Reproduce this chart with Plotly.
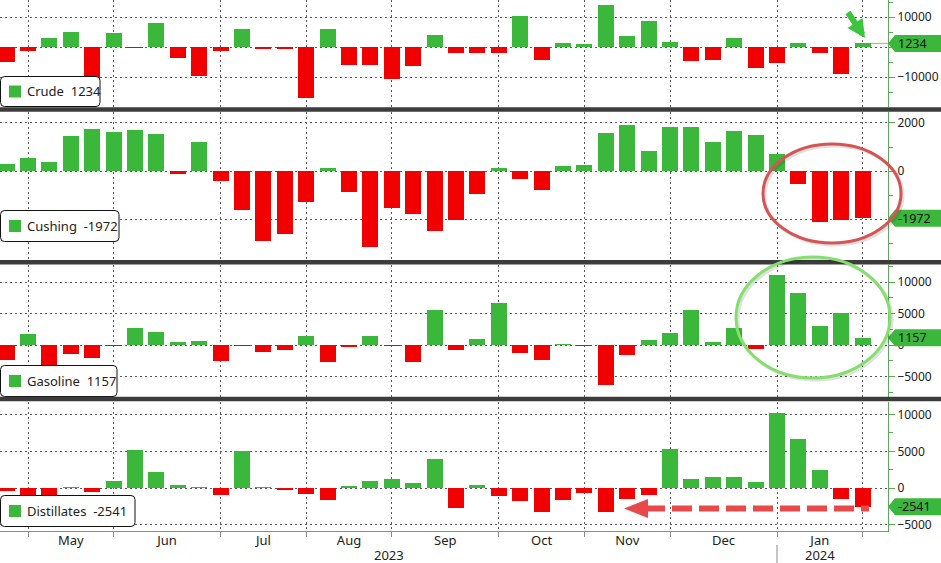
import plotly.graph_objects as go
import pandas as pd

# ---------------- data (weekly changes, thousand barrels) ----------------
dates = [
    "2023-04-21", "2023-04-28", "2023-05-05", "2023-05-12", "2023-05-19", "2023-05-26",
    "2023-06-02", "2023-06-09", "2023-06-16", "2023-06-23", "2023-06-30",
    "2023-07-07", "2023-07-14", "2023-07-21", "2023-07-28",
    "2023-08-04", "2023-08-11", "2023-08-18", "2023-08-25",
    "2023-09-01", "2023-09-08", "2023-09-15", "2023-09-22", "2023-09-29",
    "2023-10-06", "2023-10-13", "2023-10-20", "2023-10-27",
    "2023-11-03", "2023-11-10", "2023-11-17", "2023-11-24",
    "2023-12-01", "2023-12-08", "2023-12-15", "2023-12-22", "2023-12-29",
    "2024-01-05", "2024-01-12", "2024-01-19", "2024-01-26",
]
crude = [-4900, -1300, 3000, 5000, -12500, 4700, -200, 8000, -3600, -9700, -1300,
         6000, -700, -600, -17000, 6000, -5900, -6100, -10600, -6300, 4000, -2000,
         -1800, -1800, 10400, -4200, 1300, 1000, 13900, 3800, 8700, 1600, -4600,
         -4200, 3000, -6900, -5200, 1300, -2100, -8900, 1234]
cushing = [290, 540, 375, 1460, 1750, 1625, 1710, 1540, -110, 1210, -400,
           -1610, -2900, -2610, -1280, 125, -860, -3150, -1530, -1780, -2490, -2050,
           -940, 125, -320, -780, 220, 265, 1600, 1930, 830, 1850, 1850,
           1210, 1670, 1510, 720, -530, -2110, -2030, -1972]
gasoline = [-2340, 1750, -3190, -1380, -2020, -100, 2710, 2070, 480, 640, -2500,
            -80, -1060, -750, 1440, -2660, -270, 1440, -100, -2660, 5590, -750,
            970, 6610, -1240, -2370, 100, -50, -6400, -1560, 810, 1830, 5540,
            480, 2740, -590, 11130, 8230, 3070, 5110, 1157]
distillates = [-450, -910, -910, 100, -500, 1000, 5230, 2230, 450, 120, -1000,
               5000, 50, -180, -770, -1680, 320, 1000, 1270, 730, 4000, -2770,
               410, -1140, -1820, -3230, -1680, -730, -3230, -1450, -1000, 5360, 1270,
               1550, 1550, 860, 10270, 6730, 2500, -1450, -2541]
series_names = ["Crude", "Cushing", "Gasoline", "Distillates"]
month_labels = ["May", "Jun", "Jul", "Aug", "Sep", "Oct", "Nov", "Dec", "Jan"]
year_labels = ["2023", "2024"]

# ---------------- styling ----------------
W, H = 941, 563
PLOT_RIGHT = 888
GREEN = "#3bb83b"
RED = "#f00000"
AXIS_GREEN = "#5da85d"
GRID = "#5a5a5a"
TEXT = "#222222"
FONT = "Noto Sans"
SEP = "#3c3c3c"


def fx(p):
    return p / W


def fy(p):
    return 1 - p / H


dt = pd.to_datetime(dates)
day_px = 21.4 / 7.0
first_px = 6.6
x_start = dt[0] - pd.Timedelta(days=first_px / day_px)
x_end = dt[0] + pd.Timedelta(days=(PLOT_RIGHT - first_px) / day_px)
bar_width_ms = 16 / day_px * 86400000

s = pd.Series(dt)
month_ends = s.groupby(s.dt.to_period("M")).max().tolist()
mids = [month_ends[i] + (month_ends[i + 1] - month_ends[i]) / 2 for i in range(len(month_ends) - 1)]

values = [crude, cushing, gasoline, distillates]
# (top px, bottom px, y range, dtick, minor dtick, legend width, legend bottom offset, legend height)
panels = [
    (0, 107, [-19900, 15667], 10000, 5000, 100, 0.5, 30),
    (112, 260, [-3708, 2458], 2000, 1000, 119, 18.5, 31),
    (265, 397, [-8254, 12698], 5000, 2500, 117, 0.5, 31),
    (402, 531, [-5858, 11717], 5000, 2500, 135, 4.5, 31),
]

fig = go.Figure()
shapes = []
annotations = []
layout = dict(
    width=W, height=H, autosize=False,
    margin=dict(l=0, r=0, t=0, b=0, pad=0),
    paper_bgcolor="white", plot_bgcolor="white",
    showlegend=False, bargap=0,
    font=dict(family=FONT, size=12, color=TEXT),
)

for i, (name, vals, p) in enumerate(zip(series_names, values, panels)):
    n = i + 1
    top, bot, yr, dtick, mdtick, lw, lb, lh = p
    xa = "x" if n == 1 else f"x{n}"
    ya = "y" if n == 1 else f"y{n}"
    colors = [GREEN if v >= 0 else RED for v in vals]
    fig.add_trace(go.Bar(
        x=dt, y=vals, width=bar_width_ms,
        marker=dict(color=colors, line=dict(width=0)),
        xaxis=xa, yaxis=ya, hoverinfo="skip", showlegend=False,
    ))
    xkey = "xaxis" if n == 1 else f"xaxis{n}"
    ykey = "yaxis" if n == 1 else f"yaxis{n}"
    xdict = dict(
        domain=[0, fx(PLOT_RIGHT)], anchor=ya, type="date", automargin=False,
        range=[x_start, x_end],
        tickmode="array", tickvals=mids, ticktext=month_labels,
        showticklabels=(n == 4), ticks="", showgrid=False, zeroline=False,
        showline=(n == 4), linecolor="#8a8a8a", linewidth=1,
        tickfont=dict(family=FONT, size=13, color=TEXT),
        ticklabelstandoff=-3,
        minor=dict(tickmode="array", tickvals=month_ends, showgrid=True,
                   gridcolor=GRID, griddash="2px,3px", gridwidth=1,
                   ticks="outside" if n == 4 else "", ticklen=5, tickcolor="#8a8a8a"),
        fixedrange=True,
    )
    if n > 1:
        xdict["matches"] = "x"
    layout[xkey] = xdict
    layout[ykey] = dict(
        domain=[fy(bot), fy(top)], anchor=xa, side="right", range=yr, automargin=False,
        tickmode="linear", tick0=0, dtick=dtick, tickformat="d",
        showgrid=True, gridcolor=GRID, griddash="2px,3px", gridwidth=1,
        zeroline=False, showline=True, linecolor=AXIS_GREEN, linewidth=1,
        ticks="outside", ticklen=6, tickwidth=1, tickcolor=AXIS_GREEN,
        minor=dict(tick0=0, dtick=mdtick, ticks="outside", ticklen=4,
                   tickcolor=AXIS_GREEN, showgrid=False),
        tickfont=dict(family=FONT, size=12, color=TEXT),
        fixedrange=True,
    )

    last = vals[-1]
    # value badge on the right axis
    shapes.append(dict(
        type="path", xref="paper", yref=ya, xsizemode="pixel", ysizemode="pixel",
        xanchor=fx(PLOT_RIGHT), yanchor=last,
        path="M0,0 L7,8.5 L60,8.5 L60,-8.5 L7,-8.5 Z",
        fillcolor=GREEN, line=dict(width=0), layer="above",
    ))
    annotations.append(dict(
        xref="paper", yref=ya, x=fx(896), y=last, xanchor="left", yanchor="middle",
        text=f"{last}", showarrow=False, font=dict(family=FONT, size=12.5, color="#111111"),
    ))
    # legend box (rounded)
    r = 4
    x0, x1 = 0.5, lw
    y0, y1 = lb, lb + lh
    path = (f"M{x0 + r},{y0} L{x1 - r},{y0} Q{x1},{y0} {x1},{y0 + r} "
            f"L{x1},{y1 - r} Q{x1},{y1} {x1 - r},{y1} L{x0 + r},{y1} "
            f"Q{x0},{y1} {x0},{y1 - r} L{x0},{y0 + r} Q{x0},{y0} {x0 + r},{y0} Z")
    shapes.append(dict(
        type="path", xref="paper", yref=f"{ya} domain", xsizemode="pixel", ysizemode="pixel",
        xanchor=0, yanchor=0, path=path, fillcolor="white",
        line=dict(color="#111111", width=1), layer="above",
    ))
    cy = lb + lh / 2
    shapes.append(dict(
        type="rect", xref="paper", yref=f"{ya} domain", xsizemode="pixel", ysizemode="pixel",
        xanchor=0, yanchor=0, x0=9, x1=21, y0=cy - 6, y1=cy + 6,
        fillcolor=GREEN, line=dict(width=0), layer="above",
    ))
    annotations.append(dict(
        xref="paper", yref=f"{ya} domain", x=fx(25), y=0, yshift=cy,
        xanchor="left", yanchor="middle", showarrow=False,
        text=f"{name}\u00a0 {last}", font=dict(family=FONT, size=13, color=TEXT),
    ))

# panel separators
for yc in (109.5, 262.3, 399.0):
    shapes.append(dict(type="line", xref="paper", yref="paper", x0=0, x1=1,
                       y0=fy(yc), y1=fy(yc), line=dict(color=SEP, width=4.5), layer="above"))

# crude last-value guide line
shapes.append(dict(type="line", xref="paper", yref="y", x0=fx(871), x1=fx(PLOT_RIGHT),
                   y0=crude[-1], y1=crude[-1], line=dict(color="#f0a030", width=1), layer="above"))

# year separator and labels
dec_end = month_ends[-2]
shapes.append(dict(type="line", xref="x4", yref="paper", x0=dec_end, x1=dec_end,
                   y0=fy(545), y1=fy(563), line=dict(color="#8a8a8a", width=1)))
annotations.append(dict(xref="x4", yref="paper", x=x_start + (dec_end - x_start) / 2, y=fy(555),
                        text=year_labels[0], showarrow=False, yanchor="middle", borderpad=0,
                        font=dict(family=FONT, size=13, color=TEXT)))
annotations.append(dict(xref="x4", yref="paper", x=mids[-1], y=fy(555),
                        text=year_labels[1], showarrow=False, yanchor="middle", borderpad=0,
                        font=dict(family=FONT, size=13, color=TEXT)))

# highlight ellipses
for (ex0, ey0, ex1, ey1, col) in [(763, 144, 901, 243, "#d65454"), (736, 257, 890, 378, "#86de6e")]:
    shapes.append(dict(type="circle", xref="paper", yref="paper",
                       x0=fx(ex0 + 2), x1=fx(ex1 + 2), y0=fy(ey1 + 2), y1=fy(ey0 + 2),
                       line=dict(color="rgba(0,0,0,0.12)", width=3), layer="above"))
    shapes.append(dict(type="circle", xref="paper", yref="paper",
                       x0=fx(ex0), x1=fx(ex1), y0=fy(ey1), y1=fy(ey0),
                       line=dict(color=col, width=3), layer="above"))

# red dashed arrow in distillates panel
shapes.append(dict(type="line", xref="paper", yref="paper", x0=fx(645), x1=fx(869),
                   y0=fy(508.5), y1=fy(508.5),
                   line=dict(color="#e84a4a", width=6, dash="20px,7px"), layer="above"))
shapes.append(dict(type="path", xref="paper", yref="paper",
                   path=f"M{fx(624)},{fy(508.5)} L{fx(648)},{fy(499)} L{fx(648)},{fy(518)} Z",
                   fillcolor="#e84a4a", line=dict(width=0), layer="above"))

# green arrow pointing at the latest crude bar
annotations.append(dict(xref="paper", yref="paper", x=fx(865), y=fy(38),
                        ax=-18, ay=-27, axref="pixel", ayref="pixel",
                        text="", showarrow=True, arrowhead=2, arrowsize=0.6,
                        arrowwidth=6, arrowcolor="#3cc43c"))

layout["shapes"] = shapes
layout["annotations"] = annotations
fig.update_layout(**layout)
fig.write_html("out.html", config={"displayModeBar": False},
               post_script="document.body.style.margin='0px';")
